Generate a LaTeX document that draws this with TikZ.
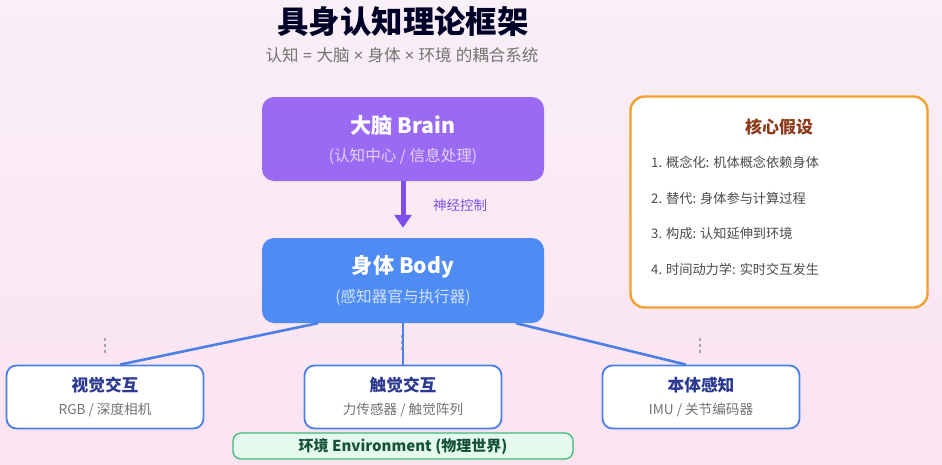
\documentclass[tikz,border=0pt]{standalone}
\usepackage{fontspec}
\setmainfont{Noto Sans CJK SC}
\newfontfamily\latinfont{Noto Sans}
\usetikzlibrary{arrows.meta}
\definecolor{bgtop}{HTML}{F9EFF6}
\definecolor{bgbot}{HTML}{FBE3F0}
\definecolor{brainc}{HTML}{9B6AF2}
\definecolor{ctrlc}{HTML}{7E4FE8}
\definecolor{bodyc}{HTML}{4E8CF4}
\definecolor{linkc}{HTML}{4B80E6}
\definecolor{navy}{HTML}{2B3990}
\definecolor{orangec}{HTML}{F2A12E}
\definecolor{brownc}{HTML}{8C3B1B}
\definecolor{envfill}{HTML}{E5FAEF}
\definecolor{envline}{HTML}{3DB97A}
\definecolor{envtext}{HTML}{17533A}
\newcommand{\tms}{{\latinfont\ ×\ }}

\begin{document}
\begin{tikzpicture}[x=1pt, y=-1pt, every node/.style={inner sep=0pt},
    bigbox/.style={rounded corners=12pt, minimum width=282pt, minimum height=84pt},
    boxhead/.style={text=white, font=\fontsize{21.2}{25}\selectfont\bfseries},
    boxsub/.style={font=\fontsize{15.6}{18}\selectfont},
    leaf/.style={draw=linkc, line width=1.8pt, fill=white, rounded corners=10pt,
                 minimum width=197pt, minimum height=63pt},
    leafhead/.style={text=navy, font=\fontsize{16.7}{20}\selectfont\bfseries},
    leafsub/.style={text=black!55, font=\fontsize{13.6}{16}\selectfont},
    item/.style={anchor=west, text=black!70, font=\fontsize{13.2}{16}\selectfont},
    link/.style={draw=linkc, line width=2.6pt},
    dashmark/.style={draw=black!35, line width=1.5pt, dash pattern=on 3pt off 3pt}
    ]
    %% background
    \shade[top color=bgtop, bottom color=bgbot] (0,0) rectangle (942,464);

    %% title
    \node[text=black!85!blue, font=\fontsize{31.4}{35}\selectfont\bfseries] (title) at (403,22) {具身认知理论框架};
    \node[text=black!55, font=\fontsize{16.5}{19}\selectfont] (subtitle) at (402,55) {认知{\latinfont\ =\ }大脑\tms{}身体\tms{}环境{\latinfont\ }的耦合系统};

    %% brain and body
    \node[bigbox, fill=brainc] (brain) at (403,139) {};
    \node[boxhead] (brainT) at (403,125) {大脑 Brain};
    \node[boxsub, text=brainc!30!white] (brainS) at (403,156) {(认知中心 / 信息处理)};

    \node[bigbox, fill=bodyc, minimum height=85pt] (body) at (403,280.5) {};
    \node[boxhead] (bodyT) at (403,267) {身体 Body};
    \node[boxsub, text=bodyc!25!white] (bodyS) at (403,297) {(感知器官与执行器)};

    \draw[ctrlc, line width=5pt, -{Triangle[length=13pt, width=17pt]}] (brain.south) -- ([yshift=10pt]body.north);
    \node[text=ctrlc, font=\fontsize{13.5}{16}\selectfont] (ctrlL) at (460,205) {神经控制};

    %% core assumptions
    \node[draw=orangec, line width=2.4pt, fill=white, rounded corners=14pt,
          minimum width=297pt, minimum height=211pt] (core) at (779,202) {};
    \node[text=brownc, font=\fontsize{17}{20}\selectfont\bfseries] (coreT) at (779,127) {核心假设};
    \node[item] (h1) at (651,162) {1. 概念化: 机体概念依赖身体};
    \node[item] (h2) at (651,198) {2. 替代: 身体参与计算过程};
    \node[item] (h3) at (651,233) {3. 构成: 认知延伸到环境};
    \node[item] (h4) at (651,269) {4. 时间动力学: 实时交互发生};

    %% dashed marks towards environment
    \draw[dashmark] (105,338) -- (105,353);
    \draw[dashmark] (402,335) -- (402,350);
    \draw[dashmark] (700,338) -- (700,353);

    %% interaction leaves
    \node[leaf] (vis) at (105,397) {};
    \node[leafhead] (visT) at (105,385) {视觉交互};
    \node[leafsub] (visS) at (105,410) {RGB / 深度相机};

    \node[leaf] (tac) at (403,397) {};
    \node[leafhead] (tacT) at (403,385) {触觉交互};
    \node[leafsub] (tacS) at (403,410) {力传感器 / 触觉阵列};

    \node[leaf] (prop) at (701,397) {};
    \node[leafhead] (propT) at (701,385) {本体感知};
    \node[leafsub] (propS) at (701,410) {IMU / 关节编码器};

    \draw[link] ([xshift=-85pt]body.south) -- ([xshift=15pt]vis.north);
    \draw[link] (body.south) -- (tac.north);
    \draw[link] ([xshift=113pt]body.south) -- ([xshift=-15pt]prop.north);

    %% environment
    \node[draw=envline, line width=1.3pt, fill=envfill, rounded corners=8pt,
          minimum width=340pt, minimum height=26pt] (env) at (403,446) {};
    \node[text=envtext, font=\fontsize{15}{18}\selectfont\bfseries] (envT) at (403,447) {环境 Environment (物理世界)};
\end{tikzpicture}
\end{document}
